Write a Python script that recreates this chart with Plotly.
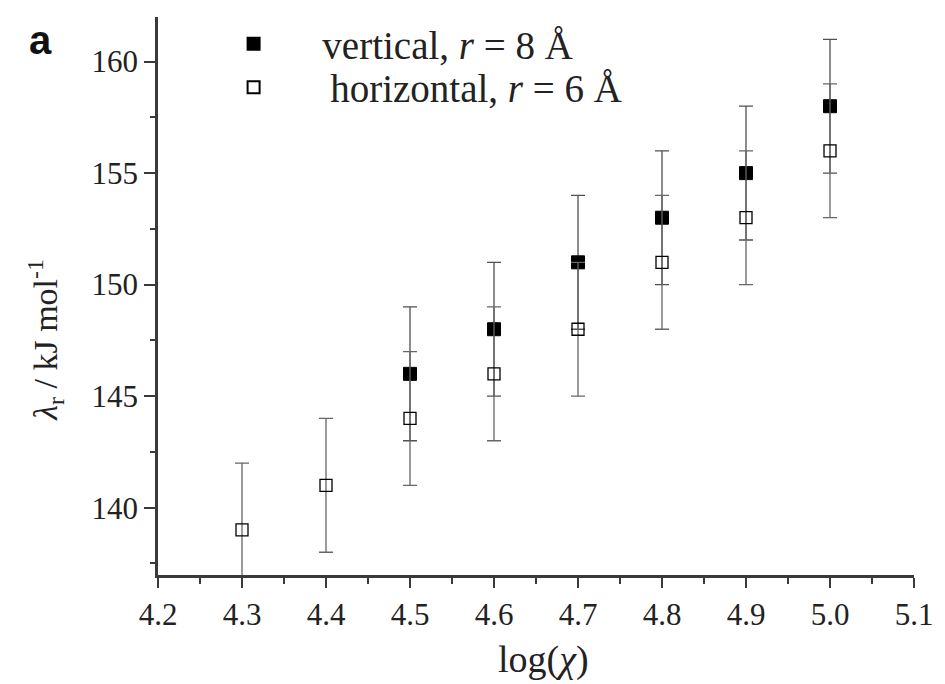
import plotly.graph_objects as go

log_chi_vertical = [4.5, 4.6, 4.7, 4.8, 4.9, 5.0]
lambda_vertical = [146, 148, 151, 153, 155, 158]
err_vertical = [3, 3, 3, 3, 3, 3]

log_chi_horizontal = [4.3, 4.4, 4.5, 4.6, 4.7, 4.8, 4.9, 5.0]
lambda_horizontal = [139, 141, 144, 146, 148, 151, 153, 156]
err_horizontal = [3, 3, 3, 3, 3, 3, 3, 3]

x_ticks = [4.2, 4.3, 4.4, 4.5, 4.6, 4.7, 4.8, 4.9, 5.0, 5.1]
x_tick_labels = ["4.2", "4.3", "4.4", "4.5", "4.6", "4.7", "4.8", "4.9", "5.0", "5.1"]
y_ticks = [140, 145, 150, 155, 160]

NB = "\u00a0"
font_family = "Liberation Serif, Times New Roman, serif"
ink = "#222222"
axis_col = "#3a3a3a"

fig = go.Figure()
fig.add_trace(go.Scatter(
    x=log_chi_vertical, y=lambda_vertical, mode="markers",
    name=NB * 5 + "vertical, <i>r</i> = 8 Å", legend="legend",
    marker=dict(symbol="square", size=13, color="black", line=dict(color="black", width=1)),
    error_y=dict(type="data", array=err_vertical, visible=True, color="#505050", thickness=1.3, width=7),
))
fig.add_trace(go.Scatter(
    x=log_chi_horizontal, y=lambda_horizontal, mode="markers",
    name=NB * 5 + "\u2009horizontal, <i>r</i> = 6 Å", legend="legend2",
    marker=dict(symbol="square-open", size=12, color="black", line=dict(color="black", width=1.3)),
    error_y=dict(type="data", array=err_horizontal, visible=True, color="#666666", thickness=1.3, width=7),
))

legend_common = dict(
    xanchor="left", yanchor="middle",
    font=dict(family=font_family, size=39, color=ink),
    bgcolor="rgba(0,0,0,0)", itemsizing="constant", borderwidth=0,
)

fig.update_layout(
    width=945, height=684,
    margin=dict(l=158, r=21, t=12, b=109),
    paper_bgcolor="white", plot_bgcolor="white",
    font=dict(family=font_family, color=ink, size=31),
    showlegend=True,
    legend=dict(x=0.10, y=0.952, **legend_common),
    legend2=dict(x=0.10, y=0.874, **legend_common),
    xaxis=dict(
        range=[4.2, 5.1], tickmode="array", tickvals=x_ticks, ticktext=x_tick_labels,
        showgrid=False, zeroline=False, showline=True, linecolor=axis_col, linewidth=2.5,
        ticks="outside", ticklen=10, tickwidth=2, tickcolor=axis_col,
        minor=dict(ticks="outside", ticklen=6, tickwidth=2, tickcolor=axis_col, dtick=0.05),
        tickfont=dict(size=31, family=font_family, color=ink),
    ),
    yaxis=dict(
        range=[136.98, 162.0], tickmode="array", tickvals=y_ticks,
        showgrid=False, zeroline=False, showline=True, linecolor=axis_col, linewidth=2.5,
        ticks="outside", ticklen=11, tickwidth=2, tickcolor=axis_col,
        minor=dict(ticks="outside", ticklen=5, tickwidth=2, tickcolor=axis_col, dtick=2.5),
        tickfont=dict(size=31, family=font_family, color=ink),
    ),
    annotations=[
        dict(text="<b>a</b>", xref="paper", yref="paper", x=-0.1553, y=0.959,
             xanchor="center", yanchor="middle", showarrow=False,
             font=dict(family="Liberation Sans, Arial, sans-serif", size=40, color="#111111")),
        dict(text="log(<i>χ</i>)", xref="paper", yref="paper", x=0.5104, y=-0.151,
             xanchor="center", yanchor="middle", showarrow=False,
             font=dict(family=font_family, size=38, color=ink)),
        dict(text="<i>λ</i><sub>r</sub> / kJ mol<sup>-1</sup>", xref="paper", yref="paper",
             x=-0.150, y=0.421, xanchor="center", yanchor="middle", textangle=-90, showarrow=False,
             font=dict(family=font_family, size=34, color=ink)),
    ],
)

fig.write_html("out.html")
